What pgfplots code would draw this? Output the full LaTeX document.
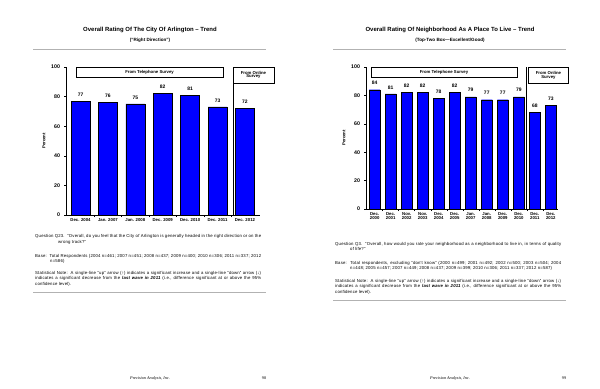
\documentclass[border=0pt]{standalone}
\usepackage{pgfplots}
\pgfplotsset{compat=1.18}
\usepackage{fontspec}
\setmainfont{Liberation Sans}
\newfontfamily\txt{Liberation Sans}[LetterSpace=4]
\newfontfamily\serifit{Liberation Serif}
\newcommand{\fs}[1]{\fontsize{#1}{#1}\selectfont}
\definecolor{barblue}{RGB}{0,0,255}
\pgfplotsset{
  barchart/.style={
    scale only axis,
    ybar,
    axis x line*=bottom,
    axis y line*=left,
    ymin=0, ymax=100,
    ytick={0,20,40,60,80,100},
    tick align=outside,
    major tick length=2bp,
    tick style={black, line width=0.4bp},
    axis line style={black, line width=0.5bp},
    /pgf/number format/assume math mode=true,
    yticklabel style={font=\bfseries\fs{5.3}, xshift=-0.5bp},
    xticklabel style={font=\bfseries\fs{4.3}, align=center, inner sep=1bp},
    ylabel={Percent},
    ylabel style={font=\bfseries\fs{4.3}},
    nodes near coords,
    nodes near coords style={font=\bfseries\fs{5}, black, yshift=1.3bp},
    clip=false,
  }
}
\begin{document}
\begin{tikzpicture}[x=1bp,y=1bp]
\fill[white] (0,0) rectangle (600,388);
%%%%%%%%%%%%%%%% LEFT PAGE
\node[font=\bfseries\fs{6}] at (150,358) {Overall Rating Of The City Of Arlington – Trend};
\node[font=\bfseries\fs{4.6}] at (150,348) {(“Right Direction”)};
\draw[gray!60, line width=0.6bp] (33,338.5) -- (266,338.5);

\begin{axis}[barchart,
  at={(66bp,173bp)}, anchor=south west,
  width=194bp, height=148bp,
  xmin=-0.53, xmax=6.55,
  bar width=19bp,
  xtick={0.5,1.5,2.5,3.5,4.5,5.5},
  xticklabels={},
  extra x ticks={0,1,2,3,4,5,6},
  extra x tick labels={Dec. 2004,Jan. 2007,Jan. 2008,Dec. 2009,Dec. 2010,Dec. 2011,Dec. 2012},
  extra x tick style={tick style={draw=none}},
  ylabel style={yshift=-1bp},
]
\addplot[fill=barblue, draw=black, line width=0.3bp] coordinates {(0,77) (1,76) (2,75) (3,82) (4,81) (5,73) (6,72)};
\draw[black, line width=0.5bp] (axis cs:5.56,0) -- (axis cs:5.56,100);
\draw[black, line width=0.5bp, fill=white] (axis cs:-0.16,100) rectangle (axis cs:5.2,93.2);
\node[font=\bfseries\fs{4.3}] at (axis cs:2.52,96.6) {From Telephone Survey};
\draw[black, line width=0.5bp, fill=white] (axis cs:5.56,100) rectangle (axis cs:7.06,89.2);
\node[font=\bfseries\fs{4.3}, align=center] at (axis cs:6.31,94.6) {From Online\\[-0.5bp]Survey};
\end{axis}

\node[anchor=north west, text width=226bp, inner sep=0pt, align=justify, font=\txt\fs{4.3}]
  at (35,153.5) {\baselineskip=5.3bp\hangindent=23bp\hangafter=1 Question Q23.\ \ “Overall, do you feel that the City of Arlington is generally headed in the right direction or on the wrong track?”\par};
\node[anchor=north west, text width=226bp, inner sep=0pt, align=justify, font=\txt\fs{4.3}]
  at (35,134) {\baselineskip=5.3bp\hangindent=15bp\hangafter=1 Base:\ \ Total Respondents (2004 n=461; 2007 n=451; 2008 n=437; 2009 n=400; 2010 n=306; 2011 n=337; 2012 n=586)\par};
\node[anchor=north west, text width=226bp, inner sep=0pt, align=justify, font=\txt\fs{4.3}]
  at (35,117) {\baselineskip=5.4bp Statistical Note:\ \ A single-line “up” arrow (↑) indicates a significant increase and a single-line “down” arrow (↓) indicates a significant decrease from the \textbf{\itshape last wave in 2011} (i.e., difference significant at or above the 95\% confidence level).\par};
\draw[gray!60, line width=0.6bp] (33,95.7) -- (266,95.7);

\node[font=\serifit\itshape\fs{4.2}] at (150,10) {Precision Analysis, Inc.};
\node[font=\serifit\fs{4.2}] at (264,10) {98};

%%%%%%%%%%%%%%%% RIGHT PAGE
\node[font=\bfseries\fs{6}] at (450,358) {Overall Rating Of Neighborhood As A Place To Live – Trend};
\node[font=\bfseries\fs{4.6}] at (450,348) {(Top-Two Box—Excellent/Good)};
\draw[gray!60, line width=0.6bp] (333,338.5) -- (566,338.5);

\begin{axis}[barchart,
  at={(366bp,179bp)}, anchor=south west,
  width=192bp, height=142bp,
  xmin=-0.54, xmax=11.45,
  bar width=11bp,
  xtick={0.5,1.5,2.5,3.5,4.5,5.5,6.5,7.5,8.5,9.5,10.5},
  xticklabels={},
  extra x ticks={0,1,2,3,4,5,6,7,8,9,10,11},
  extra x tick labels={Dec.\\2000,Dec.\\2001,Nov.\\2002,Nov.\\2003,Dec.\\2004,Dec.\\2005,Jan.\\2007,Jan.\\2008,Dec.\\2009,Dec.\\2010,Dec.\\2011,Dec.\\2012},
  extra x tick style={tick style={draw=none}},
  ylabel style={yshift=-1bp},
]
\addplot[fill=barblue, draw=black, line width=0.3bp] coordinates {(0,84) (1,81) (2,82) (3,82) (4,78) (5,82) (6,79) (7,77) (8,77) (9,79) (10,68) (11,73)};
\draw[black, line width=0.5bp] (axis cs:9.47,0) -- (axis cs:9.47,100);
\draw[black, line width=0.5bp, fill=white] (axis cs:-0.23,100) rectangle (axis cs:8.89,93);
\node[font=\bfseries\fs{4.3}] at (axis cs:4.33,96.5) {From Telephone Survey};
\draw[black, line width=0.5bp, fill=white] (axis cs:9.6,100) rectangle (axis cs:12.1,88.7);
\node[font=\bfseries\fs{4.3}, align=center] at (axis cs:10.85,94.35) {From Online\\[-0.5bp]Survey};
\end{axis}

\node[anchor=north west, text width=226bp, inner sep=0pt, align=justify, font=\txt\fs{4.3}]
  at (335,146) {\baselineskip=5.3bp\hangindent=15bp\hangafter=1 Question Q3.\ \ “Overall, how would you rate your neighborhood as a neighborhood to live in, in terms of quality of life?”\par};
\node[anchor=north west, text width=226bp, inner sep=0pt, align=justify, font=\txt\fs{4.3}]
  at (335,127) {\baselineskip=5.3bp\hangindent=15bp\hangafter=1 Base:\ \ Total respondents, excluding “don't know” (2000 n=499; 2001 n=492; 2002 n=500; 2003 n=504; 2004 n=448; 2005 n=457; 2007 n=449; 2008 n=437; 2009 n=399; 2010 n=306; 2011 n=337; 2012 n=587)\par};
\node[anchor=north west, text width=226bp, inner sep=0pt, align=justify, font=\txt\fs{4.3}]
  at (335,109) {\baselineskip=5.4bp Statistical Note:\ \ A single-line “up” arrow (↑) indicates a significant increase and a single-line “down” arrow (↓) indicates a significant decrease from the \textbf{\itshape last wave in 2011} (i.e., difference significant at or above the 95\% confidence level).\par};
\draw[gray!60, line width=0.6bp] (333,88) -- (566,88);

\node[font=\serifit\itshape\fs{4.2}] at (450,10) {Precision Analysis, Inc.};
\node[font=\serifit\fs{4.2}] at (564,10) {99};

\path[use as bounding box] (0,0) rectangle (600,388);
\end{tikzpicture}
\end{document}
